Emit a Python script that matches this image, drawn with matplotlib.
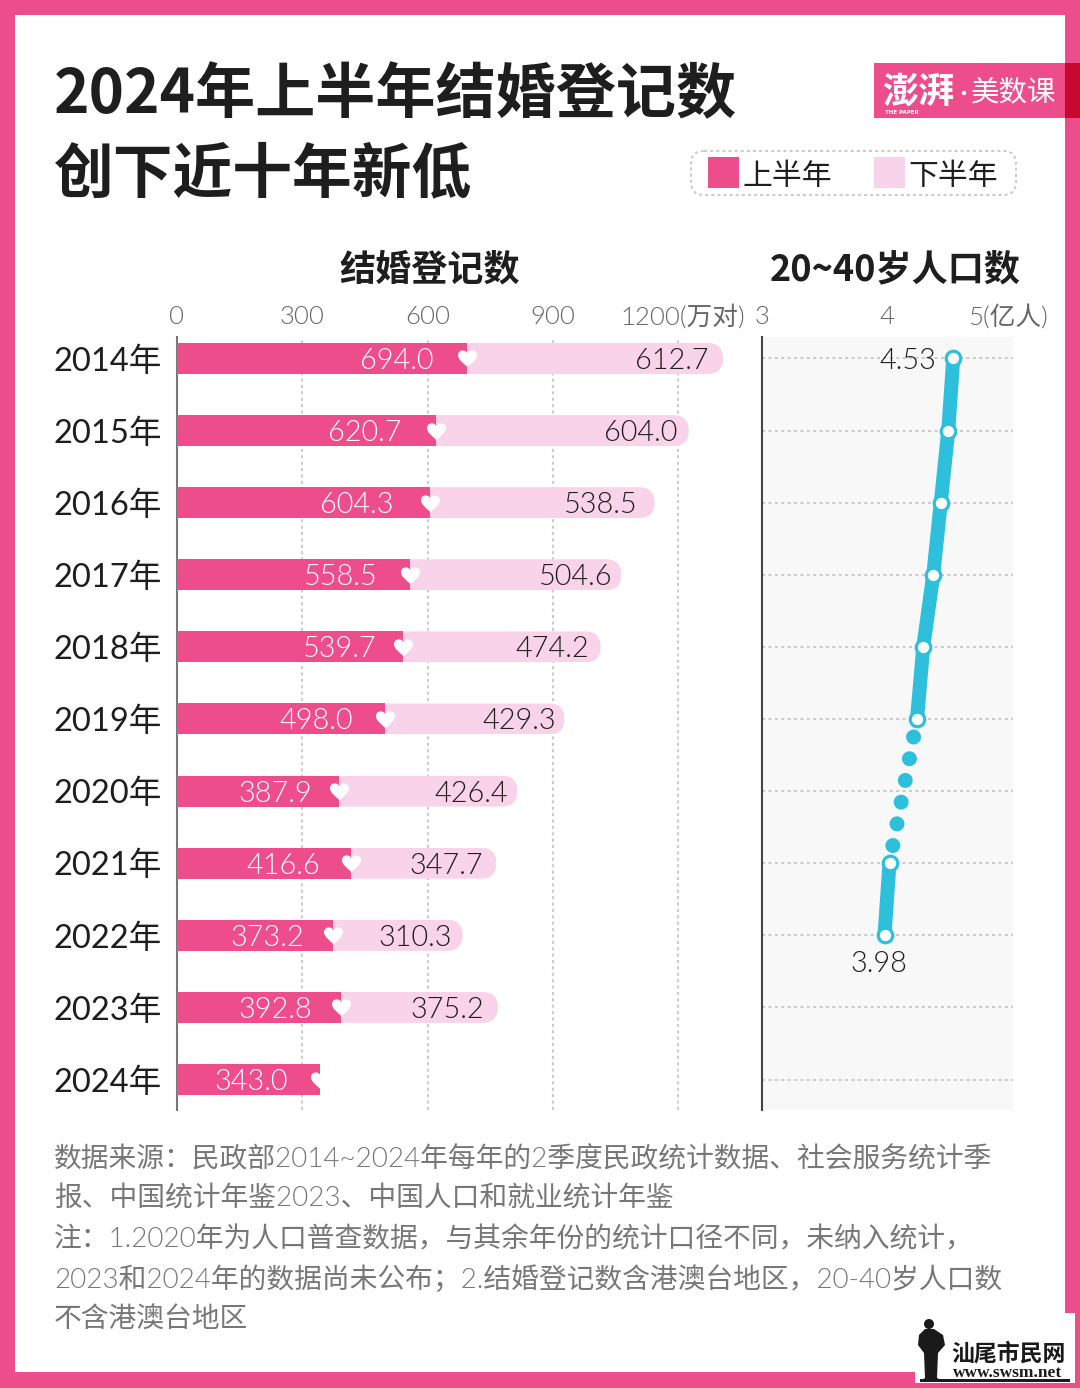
import matplotlib
matplotlib.use('Agg')
import matplotlib.pyplot as plt
import numpy as np
from matplotlib.patches import Rectangle, FancyBboxPatch, Polygon, Circle
from matplotlib.path import Path
from matplotlib.transforms import IdentityTransform, ScaledTranslation

plt.rcParams['lines.scale_dashes'] = False

years = ['2014年', '2015年', '2016年', '2017年', '2018年', '2019年', '2020年', '2021年', '2022年', '2023年', '2024年']
first_half = [694.0, 620.7, 604.3, 558.5, 539.7, 498.0, 387.9, 416.6, 373.2, 392.8, 343.0]
second_half = [612.7, 604.0, 538.5, 504.6, 474.2, 429.3, 426.4, 347.7, 310.3, 375.2, None]

# population 20~40, 2020 has no value (census year)
pop_idx_a = [0, 1, 2, 3, 4, 5]
pop_a = [4.53, 4.49, 4.43, 4.37, 4.29, 4.24]
pop_idx_b = [7, 8]
pop_b = [4.02, 3.98]

marriage_ticks = [0, 300, 600, 900, 1200]
marriage_ticklabels = ['0', '300', '600', '900', '1200(万对)']
pop_ticks = [3, 4, 5]
pop_ticklabels = ['3', '4', '5(亿人)']

footer = ['数据来源：民政部2014~2024年每年的2季度民政统计数据、社会服务统计季',
          '报、中国统计年鉴2023、中国人口和就业统计年鉴',
          '注：1.2020年为人口普查数据，与其余年份的统计口径不同，未纳入统计，',
          '2023和2024年的数据尚未公布；2.结婚登记数含港澳台地区，20-40岁人口数',
          '不含港澳台地区']

# gap in px between bar end and value label, the original labels are not evenly placed
first_gap = [33, 35, 36, 33, 26, 32, 27, 31, 29, 29, 32]
second_gap = [14, 11, 17, 9, 12, 8, 9, 13, 11, 14, 0]

PINK = '#EE4D8C'
LIGHT = '#F9D3EA'
CYAN = '#2DBFDC'
DARK = '#1E1E1E'
CJK = ['Noto Sans CJK SC', 'DejaVu Sans']
LIGHTNUM = ['Lato', 'Noto Sans CJK SC', 'DejaVu Sans']

W, H = 1080, 1388
fig = plt.figure(figsize=(W / 100, H / 100), dpi=100, facecolor='white')
PX = 0.72  # points per pixel


def axes_px(x0, y0, x1, y1, **kw):
    return fig.add_axes([x0 / W, 1 - y1 / H, (x1 - x0) / W, (y1 - y0) / H], **kw)


# overlay in pixel coordinates for frame, title, logo
bg = axes_px(0, 0, W, H)
bg.set_xlim(0, W)
bg.set_ylim(H, 0)
bg.axis('off')
bg.add_patch(Rectangle((0, 0), W, H, fc=PINK, ec='none'))
bg.add_patch(Rectangle((15, 15), 1050, 1357, fc='white', ec='none'))

bg.text(54, 95, '2024年上半年结婚登记数', fontsize=43.3, family=CJK, weight='bold', color=DARK, va='center')
bg.text(54, 175, '创下近十年新低', fontsize=43, family=CJK, weight='bold', color=DARK, va='center')

# logo
bg.add_patch(Rectangle((874, 63), 191, 55, fc=PINK, ec='none'))
bg.add_patch(Rectangle((1065, 63), 15, 55, fc='#C8082F', ec='none'))
bg.text(882, 92, '澎湃', fontsize=26, family=CJK, weight='bold', color='white', va='center')
bg.add_patch(Circle((964, 93), 2.2, fc='white', ec='none'))
bg.text(971, 92, '美数课', fontsize=20.5, family=CJK, color='white', va='center')
bg.text(885, 112, 'THE PAPER', fontsize=4, family='DejaVu Sans', weight='bold', color='white', va='center')

# legend
bg.add_patch(FancyBboxPatch((691, 151), 325, 44, boxstyle='round,pad=0,rounding_size=13', fc='white',
                            ec='#CCCCCC', lw=1.5, ls=(0, (2.2, 2.2))))
bg.add_patch(Rectangle((708, 157), 31, 31, fc=PINK, ec='none'))
bg.add_patch(Rectangle((874, 157), 31, 31, fc=LIGHT, ec='none'))
bg.text(742, 176, '上半年', fontsize=21.5, family=CJK, color=DARK, va='center')
bg.text(908, 176, '下半年', fontsize=21.5, family=CJK, color=DARK, va='center')

bg.text(430, 270, '结婚登记数', fontsize=26, family=CJK, weight='bold', color=DARK, va='center', ha='center')
bg.text(895, 270, '20~40岁人口数', fontsize=26, family=CJK, weight='bold', color=DARK, va='center', ha='center')

for i, line in enumerate(footer):
    bg.text(54, 1159 + i * 40, line, fontsize=20, family=LIGHTNUM, weight=300, color='#777777', va='center')

# watermark
bg.add_patch(Rectangle((915, 1313), 160, 70, fc='white', ec='none'))
bg.add_patch(Circle((929, 1324), 5, fc='#1A1A1A', ec='none'))
bg.add_patch(Polygon([(925, 1329), (934, 1329), (943, 1335), (945, 1345), (938, 1353), (937, 1378), (943, 1381),
                      (920, 1381), (925, 1378), (924, 1353), (918, 1345), (919, 1335)], fc='#1A1A1A', ec='none'))
bg.add_patch(Rectangle((920, 1379), 150, 3, fc='#1A1A1A', ec='none'))
bg.text(1009, 1354, '汕尾市民网', fontsize=16.5, family=CJK, weight='bold', color='#1A1A1A', va='center', ha='center')
bg.text(1008, 1373, 'www.swsm.net', fontsize=12.5, family='Liberation Serif', weight='bold', color='#1A1A1A',
        va='center', ha='center')

# left chart
ylim = (10.423, -0.298)
ax = axes_px(177, 337, 762, 1110)
ax.patch.set_alpha(0)
ax.set_xlim(0, 1400)
ax.set_ylim(*ylim)
fig.canvas.draw()

y_pos = np.arange(len(years))
grid_style = dict(color='#CCCCCC', lw=1.5, ls=(0, (2.2, 2.4)))
for t in marriage_ticks[1:]:
    ax.axvline(t, zorder=1, **grid_style)

heart_path = Path(
    [(0, -0.9), (-0.5, -0.45), (-1, -0.1), (-1, 0.35), (-1, 0.7), (-0.75, 0.85), (-0.5, 0.85),
     (-0.25, 0.85), (-0.08, 0.72), (0, 0.5), (0.08, 0.72), (0.25, 0.85), (0.5, 0.85),
     (0.75, 0.85), (1, 0.7), (1, 0.35), (1, -0.1), (0.5, -0.45), (0, -0.9)],
    [Path.MOVETO] + [Path.CURVE4] * 18)

bar_h = 31 / 72.1
for i in y_pos:
    a = first_half[i]
    b = second_half[i]
    if b is not None:
        bar2 = ax.barh(i, b, left=a, height=bar_h, color=LIGHT, zorder=2)[0]
        # rounded right end, clipped in pixels
        (x0, y0), (x1, y1) = ax.transData.transform([(a, i + bar_h / 2), (a + b, i - bar_h / 2)])
        clip = FancyBboxPatch((x0 - 40, y0), x1 - x0 + 40, y1 - y0,
                              boxstyle='round,pad=0,rounding_size=15.5', transform=IdentityTransform())
        bar2.set_clip_path(clip)
        ax.annotate(f'{b:.1f}', (a + b, i), xytext=(-second_gap[i] * PX, -2.5 * PX), textcoords='offset points',
                    ha='right', va='center', fontsize=20.8, family=LIGHTNUM, weight=300, color=DARK, zorder=5)
    bar1 = ax.barh(i, a, height=bar_h, color=PINK, zorder=3)[0]
    ax.annotate(f'{a:.1f}', (a, i), xytext=(-first_gap[i] * PX, -2.5 * PX), textcoords='offset points',
                ha='right', va='center', fontsize=20.8, family=LIGHTNUM, weight=300, color='white', zorder=5)
    heart, = ax.plot([a], [i], marker=heart_path, ms=19 * PX, color='white', mec='none', ls='none', zorder=4)
    if b is None:
        heart.set_clip_path(bar1)

for s in ['top', 'right', 'bottom']:
    ax.spines[s].set_visible(False)
ax.spines['left'].set_color('#777777')
ax.spines['left'].set_linewidth(1.5)
ax.xaxis.tick_top()
ax.set_xticks(marriage_ticks)
ax.set_xticklabels(marriage_ticklabels, fontsize=18.5, family=LIGHTNUM, weight=300, color='#666666')
ax.set_yticks(y_pos)
ax.set_yticklabels(years, fontsize=23.5, family=LIGHTNUM, color=DARK)
ax.tick_params(axis='x', length=0, pad=5.5)
ax.tick_params(axis='y', length=0, pad=11)
lab = ax.get_xticklabels()[-1]
lab.set_transform(lab.get_transform() + ScaledTranslation(4.5 / 100, 0, fig.dpi_scale_trans))

# right chart
ax2 = axes_px(762, 337, 1013, 1110)
ax2.set_facecolor('#F8F8F8')
ax2.set_xlim(3, 5.008)
ax2.set_ylim(*ylim)
for i in y_pos:
    ax2.axhline(i, zorder=1, **grid_style)

lw_line = 14 * PX
ax2.plot([pop_a[-1], pop_b[0]], [pop_idx_a[-1], pop_idx_b[0]], color=CYAN, lw=15 * PX,
         ls=(2.7, (0.01, 15.9)), dash_capstyle='round', zorder=3)
ax2.plot(pop_a, pop_idx_a, color=CYAN, lw=lw_line, solid_capstyle='butt', zorder=3)
ax2.plot(pop_b, pop_idx_b, color=CYAN, lw=lw_line, solid_capstyle='butt', zorder=3)
ax2.plot(pop_a, pop_idx_a, ls='none', marker='o', ms=14.5 * PX, mfc='white', mec=CYAN, mew=3.2 * PX, zorder=4)
ax2.plot(pop_b, pop_idx_b, ls='none', marker='o', ms=14.5 * PX, mfc='white', mec=CYAN, mew=3.2 * PX, zorder=4)
ax2.annotate(f'{pop_a[0]:.2f}', (pop_a[0], pop_idx_a[0]), xytext=(-17 * PX, -3 * PX), textcoords='offset points',
             ha='right', va='center', fontsize=20.8, family=LIGHTNUM, weight=300, color=DARK)
ax2.annotate(f'{pop_b[-1]:.2f}', (pop_b[-1], pop_idx_b[-1]), xytext=(-5.5 * PX, -28.5 * PX), textcoords='offset points',
             ha='center', va='center', fontsize=20.8, family=LIGHTNUM, weight=300, color=DARK)

for s in ['top', 'right', 'bottom']:
    ax2.spines[s].set_visible(False)
ax2.spines['left'].set_color('#444444')
ax2.spines['left'].set_linewidth(1.5)
ax2.xaxis.tick_top()
ax2.set_xticks(pop_ticks)
ax2.set_xticklabels(pop_ticklabels, fontsize=18.5, family=LIGHTNUM, weight=300, color='#666666')
ax2.set_yticks([])
ax2.tick_params(axis='x', length=0, pad=5.5)
lab = ax2.get_xticklabels()[-1]
lab.set_transform(lab.get_transform() + ScaledTranslation(-3.5 / 100, 0, fig.dpi_scale_trans))

fig.savefig('out.png', dpi=100, facecolor='white')
